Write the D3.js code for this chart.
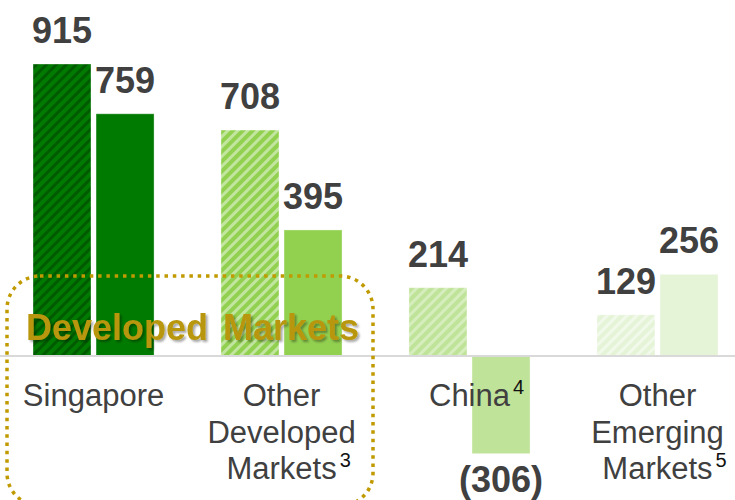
<html>
<head>
<script src="https://d3js.org/d3.v7.min.js"></script>
<style>
body{margin:0;background:#fff;}
svg text{font-family:"Liberation Sans",Arial,sans-serif;}
</style>
</head>
<body>
<div id="chart"></div>
<script>
// data
var categories=["Singapore","Other Developed Markets","China","Other Emerging Markets"];
var catLines=[["Singapore"],["Other","Developed","Markets"],["China"],["Other","Emerging","Markets"]];
var footnotes=["","3","4","5"];
var series1=[915,708,214,129];   // hatched bars
var series2=[759,395,-306,256];  // solid bars
var baseColors=["#007a00","#92d050","#c0e39a","#e5f3d7"];
var stripeColors=["#005a00","#c2e6a0","#d6eebd","#f1f9ea"];

var W=735,H=500;
var svg=d3.select("#chart").append("svg").attr("width",W).attr("height",H);
var defs=svg.append("defs");

baseColors.forEach(function(c,i){
	var p=defs.append("pattern").attr("id","hatch"+i)
	.attr("patternUnits","userSpaceOnUse").attr("width",7).attr("height",7)
	.attr("patternTransform","rotate(45)");
	p.append("rect").attr("width",7).attr("height",7).attr("fill",c);
	p.append("rect").attr("width",3).attr("height",7).attr("fill",stripeColors[i]);
});

var f=defs.append("filter").attr("id","shadow").attr("x","-10%").attr("y","-30%").attr("width","120%").attr("height","160%");
f.append("feDropShadow").attr("dx",2).attr("dy",2).attr("stdDeviation",1.2)
.attr("flood-color","#000").attr("flood-opacity",0.35);

var x0=d3.scaleBand().domain(categories).range([33,718]).paddingInner(0.356).paddingOuter(0);
var x1=d3.scaleBand().domain(["a","b"]).range([0,x0.bandwidth()]).paddingInner(0.08);
var y=d3.scaleLinear().domain([0,915]).range([356,64]);

var rows=categories.map(function(c,i){
	return [{cat:c,k:"a",v:series1[i],i:i},{cat:c,k:"b",v:series2[i],i:i}];
});
var all=[].concat.apply([],rows);

svg.append("g").selectAll("rect").data(all).enter().append("rect")
.attr("x",d=>x0(d.cat)+x1(d.k))
.attr("y",d=>y(Math.max(0,d.v)))
.attr("width",x1.bandwidth())
.attr("height",d=>Math.abs(y(d.v)-y(0)))
.attr("fill",d=>d.k=="a" ? "url(#hatch"+d.i+")" : baseColors[d.i])
.attr("stroke","rgba(255,255,255,0.35)").attr("stroke-width",1);

// zero line
svg.append("line").attr("x1",0).attr("x2",W).attr("y1",y(0)).attr("y2",y(0))
.attr("stroke","#d9d9d9").attr("stroke-width",2);

// value labels
svg.append("g").selectAll("text").data(all).enter().append("text")
.attr("x",d=>x0(d.cat)+x1(d.k)+x1.bandwidth()/2)
.attr("y",d=>d.v>=0 ? y(d.v)-21 : y(d.v)+38)
.attr("text-anchor","middle")
.attr("font-size","36px").attr("font-weight","bold").attr("fill","#404040")
.text(d=>d.v<0 ? "("+Math.abs(d.v)+")" : d.v);

// category labels
var cl=svg.append("g").selectAll("g").data(categories).enter().append("g")
.attr("transform",d=>"translate("+(x0(d)+x0.bandwidth()/2)+",0)");
cl.each(function(d,i){
	var g=d3.select(this);
	var lines=catLines[i];
	lines.forEach(function(s,j){
		var t=g.append("text").attr("x",0).attr("y",406+j*36.5)
		.attr("text-anchor","middle").attr("font-size","31px").attr("fill","#404040").text(s);
		if(j==lines.length-1 && footnotes[i]!=""){
			var w=t.node().getComputedTextLength();
			g.append("text").attr("x",w/2+3).attr("y",406+j*36.5-12)
			.attr("font-size","20px").attr("fill","#111").text(footnotes[i]);
		}
	});
});

// developed markets box
svg.append("rect").attr("x",7).attr("y",276).attr("width",366).attr("height",230)
.attr("rx",33).attr("ry",33).attr("fill","none")
.attr("stroke","#c09a00").attr("stroke-width",3.5).attr("stroke-dasharray","3.5 4.8");

svg.append("text").attr("x",192.5).attr("y",340).attr("text-anchor","middle")
.attr("font-size","36px").attr("font-weight","bold").attr("fill","#b8960a")
.attr("word-spacing","5px").attr("filter","url(#shadow)")
.text("Developed Markets");
</script>
</body>
</html>
